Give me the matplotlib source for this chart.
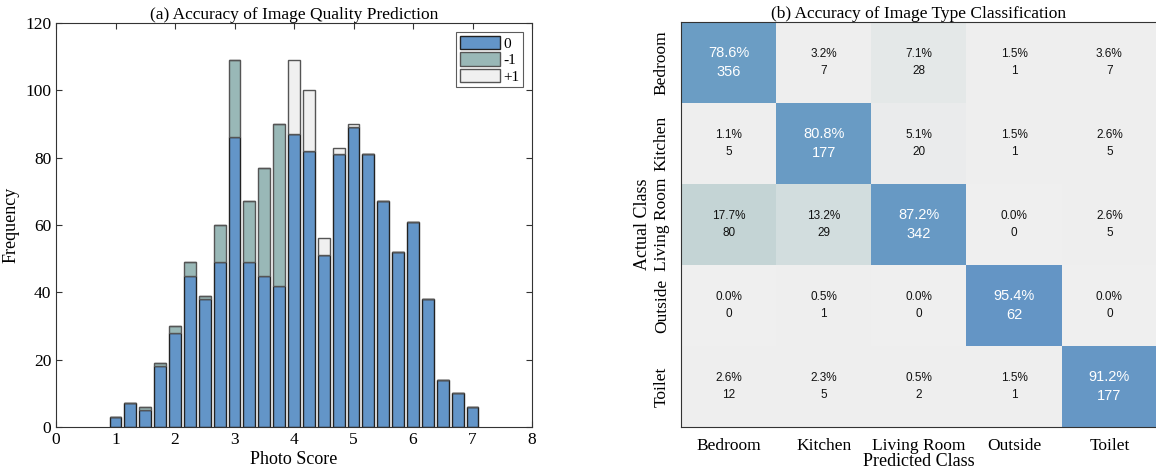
import numpy as np
import matplotlib.pyplot as plt
from matplotlib.colors import LinearSegmentedColormap

plt.rcParams['font.family'] = ['Liberation Serif', 'DejaVu Serif']

# photo score histogram, stacked by prediction error
scores = [1.0, 1.25, 1.5, 1.75, 2.0, 2.25, 2.5, 2.75, 3.0, 3.25, 3.5, 3.75, 4.0,
          4.25, 4.5, 4.75, 5.0, 5.25, 5.5, 5.75, 6.0, 6.25, 6.5, 6.75, 7.0]
exact = [3, 7, 5, 18, 28, 45, 38, 49, 86, 49, 45, 42, 87,
         82, 51, 81, 89, 81, 67, 52, 61, 38, 14, 10, 6]
minus1 = [0, 0, 1, 1, 2, 4, 1, 11, 23, 18, 32, 48, 0,
          0, 0, 0, 0, 0, 0, 0, 0, 0, 0, 0, 0]
plus1 = [0, 0, 0, 0, 0, 0, 0, 0, 0, 0, 0, 0, 22,
         18, 5, 2, 1, 0, 0, 0, 0, 0, 0, 0, 0]

# confusion matrix (rows actual, columns predicted)
classes = ['Bedroom', 'Kitchen', 'Living Room', 'Outside', 'Toilet']
counts = np.array([
    [356, 7, 28, 1, 7],
    [5, 177, 20, 1, 5],
    [80, 29, 342, 0, 5],
    [0, 1, 0, 62, 0],
    [12, 5, 2, 1, 177],
])

fig = plt.figure(figsize=(11.56, 4.70), dpi=100)
W, H = 1156, 470
ax1 = fig.add_axes([56 / W, 1 - 427 / H, 476 / W, 404 / H])
ax2 = fig.add_axes([681 / W, 1 - 427 / H, 476 / W, 405 / H])

blue = '#6395c8'
teal = '#99b8b7'
light = '#f0f0f0'
kw = dict(width=0.2, edgecolor='#222222', linewidth=1.0)
b0 = np.array(exact)
bm = np.array(minus1)
bp = np.array(plus1)
ax1.bar(scores, b0, color=blue, label='0', zorder=2, **kw)
ax1.bar(scores, bm, bottom=b0, color=teal, label='-1', zorder=2,
        **{**kw, 'edgecolor': '#555555'})
ax1.bar(scores, bp, bottom=b0 + bm, color=light, label='+1', zorder=2,
        **{**kw, 'edgecolor': '#555555'})
ax1.set_xlim(0, 8)
ax1.set_ylim(0, 120)
ax1.set_xticks(range(9))
ax1.set_yticks(range(0, 121, 20))
ax1.tick_params(direction='in', top=True, right=True, labelsize=12.5,
                length=4, color='#333333', zorder=3)
for s in ax1.spines.values():
    s.set_color('#333333')
ax1.set_xlabel('Photo Score', fontsize=13, labelpad=2)
ax1.set_ylabel('Frequency', fontsize=13, labelpad=4)
ax1.set_title('(a) Accuracy of Image Quality Prediction', fontsize=12.5, pad=3)
leg = ax1.legend(loc='upper right', fontsize=11, fancybox=False,
                 edgecolor='#333333', handlelength=2.6, handleheight=0.95,
                 labelspacing=0.1, handletextpad=0.2, borderpad=0.25,
                 borderaxespad=0.6)
leg.get_frame().set_linewidth(0.8)

# column-normalised percentages
pct = counts / counts.sum(axis=0, keepdims=True) * 100
cmap = LinearSegmentedColormap.from_list(
    'cm', [(0.0, '#efefef'), (0.04, '#eeeeee'), (0.18, '#c3d4d5'),
           (0.8, '#6a9cc4'), (1.0, '#6394c6')])
ax2.imshow(pct / 100, cmap=cmap, vmin=0, vmax=1, aspect='auto')
for i in range(5):
    for j in range(5):
        diag = i == j
        ax2.text(j, i, f'{pct[i, j]:.1f}%\n{counts[i, j]}', ha='center',
                 va='center', family=['Liberation Sans', 'DejaVu Sans'],
                 fontsize=10.5 if diag else 8.5,
                 color='white' if diag else '#111111', linespacing=1.45)
ax2.set_xticks(range(5))
ax2.set_yticks(range(5))
ax2.set_xticklabels(classes, fontsize=12.5)
ax2.set_yticklabels(classes, fontsize=12.5, rotation=90, va='center')
ax2.tick_params(length=0, pad=8)
ax2.spines['right'].set_visible(False)
for s in ('top', 'left', 'bottom'):
    ax2.spines[s].set_color('#333333')
ax2.set_xlabel('Predicted Class', fontsize=13, labelpad=-1)
ax2.set_ylabel('Actual Class', fontsize=13, labelpad=2)
ax2.set_title('(b) Accuracy of Image Type Classification', fontsize=12.5, pad=3)

fig.savefig('out.png', dpi=100)
